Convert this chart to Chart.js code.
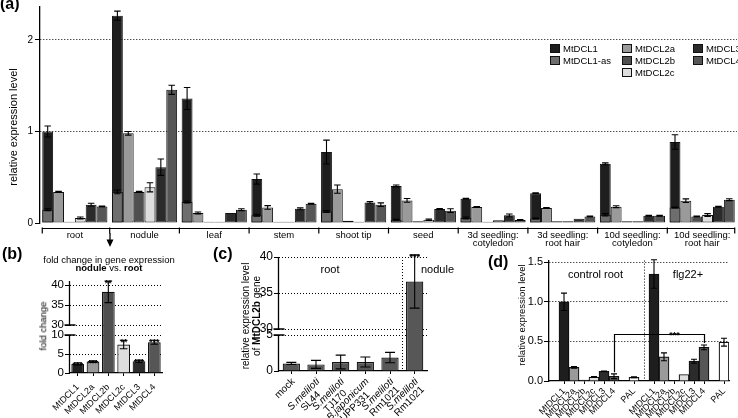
<!DOCTYPE html>
<html>
<head>
<meta charset="utf-8">
<title>MtDCL expression</title>
<script src="https://cdn.jsdelivr.net/npm/chart.js@4.4.1/dist/chart.umd.min.js"></script>
<style>
  html, body { margin: 0; padding: 0; background: #fff; }
  #fig { position: relative; width: 738px; height: 418px; overflow: hidden;
         font-family: "Liberation Sans", Arial, Helvetica, sans-serif; color: #000; }
  #fig canvas { position: absolute; }
  .t { position: absolute; white-space: nowrap; line-height: 1; }
  .panel { font-size: 16px; font-weight: bold; }
  .mid { transform: translate(-50%, -50%); text-align: center; }
  .vert { transform: translate(-50%, -50%) rotate(-90deg); text-align: center; }
  .leg { position: absolute; font-size: 9.5px; line-height: 12px; white-space: nowrap; }
  .leg i { display: inline-block; width: 8px; height: 7px; border: 1px solid #111;
           vertical-align: -1px; margin-right: 3px; }
</style>
</head>
<body>
<div id="fig">
  <canvas id="chartA" width="738" height="250" style="left:0;top:0;width:738px;height:250px"></canvas>
  <canvas id="chartB" width="170" height="148" style="left:0;top:270px;width:170px;height:148px"></canvas>
  <canvas id="chartC" width="255" height="168" style="left:180px;top:250px;width:255px;height:168px"></canvas>
  <canvas id="chartD" width="268" height="168" style="left:470px;top:250px;width:268px;height:168px"></canvas>

  <div class="t panel" style="left:0;top:-4px">(a)</div>
  <div class="t panel" style="left:2px;top:246px">(b)</div>
  <div class="t panel" style="left:213px;top:246px">(c)</div>
  <div class="t panel" style="left:488px;top:254px">(d)</div>

  <div class="t vert" style="left:12.5px;top:127px;font-size:11px">relative expression level</div>

  <svg style="position:absolute;left:104px;top:232px" width="12" height="18">
    <line x1="6" y1="1" x2="6" y2="8" stroke="#000" stroke-width="1.3"/>
    <polygon points="2.5,7.5 9.5,7.5 6,15" fill="#000"/>
  </svg>
  <div class="t mid" style="left:109px;top:264px;font-size:9.5px;line-height:8px">
    fold change in gene expression<br><b>nodule</b> vs. <b>root</b>
  </div>
  <div class="t vert" style="left:43px;top:326px;font-size:9.5px">fold change</div>

  <div class="t vert" style="left:250.5px;top:316px;font-size:10px;line-height:11px">
    relative expression level<br>of <b>MtDCL2b</b> gene
  </div>
  <div class="t mid" style="left:330px;top:269px;font-size:11px">root</div>
  <div class="t mid" style="left:437.5px;top:269px;font-size:11px">nodule</div>

  <div class="t vert" style="left:522px;top:315px;font-size:9.5px">relative expression level</div>
  <div class="t mid" style="left:595.5px;top:274px;font-size:11px">control root</div>
  <div class="t mid" style="left:688px;top:274px;font-size:11px">flg22+</div>
</div>

<script>
const FONT = '"Liberation Sans", Arial, Helvetica, sans-serif';

// (a) expression across tissues
const tissues = [['root'], ['nodule'], ['leaf'], ['stem'], ['shoot tip'], ['seed'],
  ['3d seedling:', 'cotyledon'], ['3d seedling:', 'root hair'],
  ['10d seedling:', 'cotyledon'], ['10d seedling:', 'root hair']];
const aTicks = [0, 1, 2];
const dcl1     = [1.00, 2.265, 1.36, 0.48, 0.775, 0.405, 0.265, 0.325, 0.647, 0.885];
const dcl1Err  = [0.06, 0.05, 0.12, 0.055, 0.13, 0.01, 0.005, 0.005, 0.01, 0.08];
const dcl1as   = [0.145, 0.34, 0.23, 0.085, 0.125, 0.035, 0.055, 0.05, 0.09, 0.17];
const dcl1asEr = [0.01, 0.02, 0.01, 0.01, 0.01, 0.005, 0.01, 0.005, 0.012, 0.005];
const dcl2a    = [0.34, 0.98, 0.11, 0.17, 0.37, 0.247, 0.175, 0.164, 0.178, 0.244];
const dcl2aErr = [0.005, 0.02, 0.01, 0.02, 0.045, 0.02, 0.005, 0.005, 0.01, 0.02];
const dcl2b    = [0.015, 0.34, 0.015, 0.015, 0.025, 0.018, 0.015, 0.02, 0.02, 0.07];
const dcl2bErr = [0, 0.005, 0, 0, 0, 0, 0, 0, 0, 0.005];
const dcl2c    = [0.055, 0.39, 0.015, 0.015, 0.015, 0.036, 0.03, 0.018, 0.02, 0.087];
const dcl2cErr = [0.01, 0.05, 0, 0, 0, 0.007, 0, 0, 0, 0.015];
const dcl3     = [0.20, 0.61, 0.11, 0.155, 0.225, 0.153, 0.084, 0.047, 0.08, 0.178];
const dcl3Err  = [0.015, 0.09, 0, 0.01, 0.01, 0.005, 0.015, 0, 0.005, 0.005];
const dcl4     = [0.18, 1.455, 0.145, 0.21, 0.20, 0.135, 0.033, 0.07, 0.08, 0.255];
const dcl4Err  = [0.005, 0.05, 0.01, 0.005, 0.02, 0.02, 0.005, 0.005, 0.005, 0.01];

// (b) fold change nodule vs root
const bGenes = ['MtDCL1', 'MtDCL2a', 'MtDCL2b', 'MtDCL2c', 'MtDCL3', 'MtDCL4'];
const bFold  = [2.4, 3.0, 38.3, 7.5, 3.1, 8.1];
const bErr   = [0.3, 0.2, 2.7, 1.1, 0.3, 0.5];
const bStars = ['***', '***', '**', '**', '***', '***'];
const bTicks = [0, 5, 10, 30, 35, 40];

// (c) MtDCL2b after inoculation
const cStrains = [['mock'], ['S.meliloti', 'SL44'], ['S.meliloti', 'TJ170'],
  ['B.japonicum', 'UPP331'], ['S.meliloti', 'Rm1021'], ['S.meliloti', 'Rm1021']];
const cExpr  = [1.05, 0.92, 1.25, 1.25, 1.87, 36.6];
const cErr   = [0.15, 0.55, 0.95, 0.7, 0.72, 3.7];
const cStars = ['', '', '', '', '', '***'];
const cTicks = [0, 5, 30, 35, 40];

// (d) flg22 treatment
const dGenes      = ['MtDCL1', 'MtDCL2a', 'MtDCL2b', 'MtDCL2c', 'MtDCL3', 'MtDCL4', 'PAL'];
const dControl    = [1.00, 0.172, 0.012, 0.05, 0.122, 0.06, 0.047];
const dControlErr = [0.11, 0.01, 0, 0.005, 0.005, 0.03, 0.005];
const dFlg22      = [1.35, 0.305, 0.006, 0.082, 0.25, 0.425, 0.49];
const dFlg22Err   = [0.18, 0.05, 0, 0, 0.025, 0.03, 0.05];
const dTicks      = [0, 0.5, 1.0, 1.5];
const dSigLeft = 0.11, dSigTop = 0.59, dSigRight = 0.48;

const geneColor = {
  'MtDCL1': '#1e1e1e', 'MtDCL1-as': '#6e6e6e', 'MtDCL2a': '#9a9a9a', 'MtDCL2b': '#4f4f4f',
  'MtDCL2c': '#dedede', 'MtDCL3': '#2b2b2b', 'MtDCL4': '#565656', 'PAL': '#ffffff'
};

Chart.defaults.font.family = FONT;
Chart.defaults.color = '#000';
Chart.defaults.animation = false;
Chart.defaults.plugins.legend.display = false;
Chart.defaults.plugins.tooltip.enabled = false;

// linear scale with a gap between brk.lo and brk.hi
class BrokenScale extends Chart.LinearScale {
  getPixelForValue(value) {
    if (value === null || isNaN(value)) return NaN;
    const b = this.options.brk;
    const hiFrac = 1 - b.loFrac - b.gapFrac;
    let d;
    if (value <= b.lo) d = value / b.lo * b.loFrac;
    else if (value >= b.hi) d = b.loFrac + b.gapFrac + (value - b.hi) / (this.max - b.hi) * hiFrac;
    else d = b.loFrac + (value - b.lo) / (b.hi - b.lo) * b.gapFrac;
    return this.getPixelForDecimal(d);
  }
  getValueForPixel(pixel) {
    const b = this.options.brk;
    const d = this.getDecimalForPixel(pixel);
    if (d <= b.loFrac) return d / b.loFrac * b.lo;
    if (d <= b.loFrac + b.gapFrac) return b.lo + (d - b.loFrac) / b.gapFrac * (b.hi - b.lo);
    return b.hi + (d - b.loFrac - b.gapFrac) / (1 - b.loFrac - b.gapFrac) * (this.max - b.hi);
  }
}
BrokenScale.id = 'broken';
BrokenScale.defaults = Chart.LinearScale.defaults;
Chart.register(BrokenScale);

// error bars + significance stars
const errorBars = {
  id: 'errorBars',
  afterDatasetsDraw(chart) {
    const ctx = chart.ctx;
    chart.data.datasets.forEach((ds, di) => {
      if (!ds.errors) return;
      const meta = chart.getDatasetMeta(di);
      const y = chart.scales[meta.yAxisID];
      meta.data.forEach((bar, i) => {
        const v = ds.data[i], e = ds.errors[i];
        if (v == null) return;
        const top = y.getPixelForValue(v + (e || 0));
        if (e) {
          const bot = y.getPixelForValue(Math.max(v - e, 0));
          const cap = Math.min(bar.width * 0.3, 5);
          ctx.save();
          ctx.strokeStyle = '#000';
          ctx.lineWidth = 1.1;
          ctx.beginPath();
          ctx.moveTo(bar.x, top); ctx.lineTo(bar.x, bot);
          ctx.moveTo(bar.x - cap, top); ctx.lineTo(bar.x + cap, top);
          ctx.moveTo(bar.x - cap, bot); ctx.lineTo(bar.x + cap, bot);
          ctx.stroke();
          ctx.restore();
        }
        if (ds.stars && ds.stars[i]) {
          ctx.save();
          ctx.font = 'bold 9px ' + FONT;
          ctx.textAlign = 'center';
          ctx.textBaseline = 'alphabetic';
          ctx.fillStyle = '#000';
          ctx.fillText(ds.stars[i], bar.x, top + 5);
          ctx.restore();
        }
      });
    });
  }
};

const axisBreak = {
  id: 'axisBreak',
  afterDraw(chart) {
    const y = chart.scales.y, b = y.options.brk, ctx = chart.ctx;
    const x = Math.round(chart.chartArea.left) - 0.5;
    const pLo = y.getPixelForValue(b.lo), pHi = y.getPixelForValue(b.hi);
    ctx.save();
    ctx.strokeStyle = '#000';
    ctx.lineWidth = 1.3;
    ctx.beginPath();
    ctx.moveTo(x, chart.chartArea.bottom); ctx.lineTo(x, pLo);
    ctx.moveTo(x, pHi); ctx.lineTo(x, chart.chartArea.top);
    ctx.moveTo(x - 5, pLo); ctx.lineTo(x + 6, pLo);
    ctx.moveTo(x - 5, pHi); ctx.lineTo(x + 6, pHi);
    ctx.stroke();
    ctx.restore();
  }
};

function vSeparator(chart, px) {
  const ctx = chart.ctx, a = chart.chartArea;
  ctx.save();
  ctx.strokeStyle = '#000';
  ctx.lineWidth = 1;
  ctx.setLineDash([1, 2]);
  ctx.beginPath();
  ctx.moveTo(Math.round(px) + 0.5, a.top);
  ctx.lineTo(Math.round(px) + 0.5, a.bottom);
  ctx.stroke();
  ctx.restore();
}

function fixSize(w, h) {
  return s => {
    if (w != null) s.width = w;
    if (h != null) s.height = h;
    s.paddingLeft = 0; s.paddingRight = 0; s.paddingTop = 0; s.paddingBottom = 0;
  };
}

function valueAxis(ticks, extra) {
  return Object.assign({
    min: 0,
    afterBuildTicks: s => { s.ticks = ticks.map(v => ({ value: v })); },
    grid: {
      color: c => (c.tick && c.tick.value === 0) ? 'rgba(0,0,0,0)' : '#000',
      tickColor: '#000', tickLength: 5, lineWidth: 1
    },
    border: { color: '#000', width: 1.3, dash: [1, 2] }
  }, extra);
}

// ---------- (a)
const catPctA = 0.935;
const seriesA = [
  { name: 'MtDCL1-as', data: dcl1as, err: dcl1asEr, stack: 's1' },
  { name: 'MtDCL1', data: dcl1, err: dcl1Err, stack: 's1' },
  { name: 'MtDCL2a', data: dcl2a, err: dcl2aErr, stack: 's2' },
  { name: 'MtDCL2b', data: dcl2b, err: dcl2bErr, stack: 's3' },
  { name: 'MtDCL2c', data: dcl2c, err: dcl2cErr, stack: 's4' },
  { name: 'MtDCL3', data: dcl3, err: dcl3Err, stack: 's5' },
  { name: 'MtDCL4', data: dcl4, err: dcl4Err, stack: 's6' }
];

const groupBracket = {
  id: 'groupBracket',
  afterDraw(chart) {
    const x = chart.scales.x, ctx = chart.ctx;
    const n = chart.data.labels.length;
    const slot = (x.right - x.left) / n;
    const inset = slot * (1 - catPctA) / 2;
    const y = Math.round(chart.chartArea.bottom + 5) + 0.5;
    ctx.save();
    ctx.strokeStyle = '#000';
    ctx.lineWidth = 1.2;
    ctx.beginPath();
    ctx.moveTo(x.left + inset, y); ctx.lineTo(x.right - inset, y);
    for (let i = 0; i <= n; i++) {
      let bx = x.left + i * slot;
      if (i === 0) bx += inset;
      if (i === n) bx -= inset;
      ctx.moveTo(bx, y - 1); ctx.lineTo(bx, y + 5);
    }
    ctx.stroke();
    ctx.restore();
  }
};

new Chart(document.getElementById('chartA'), {
  type: 'bar',
  data: {
    labels: tissues,
    datasets: seriesA.map(s => ({
      label: s.name, data: s.data, errors: s.err, stack: s.stack,
      backgroundColor: geneColor[s.name], borderColor: '#111', borderWidth: 1,
      borderSkipped: false, barPercentage: 1, categoryPercentage: catPctA
    }))
  },
  options: {
    responsive: false,
    layout: { padding: { top: 7, right: 1, left: 0, bottom: 0 } },
    scales: {
      x: {
        stacked: true,
        grid: { display: false, drawTicks: false },
        border: { display: false },
        ticks: { autoSkip: false, maxRotation: 0, padding: 8, color: '#000',
                 font: { size: 9.5, lineHeight: 0.9 } },
        afterFit: fixSize(null, 27)
      },
      y: valueAxis(aTicks, {
        stacked: false, max: 2.36,
        ticks: { padding: 2, color: '#000', font: { size: 10 } },
        afterFit: fixSize(40, null)
      })
    }
  },
  plugins: [errorBars, groupBracket]
});

// legend for (a)
const legendCols = [['MtDCL1', 'MtDCL1-as'], ['MtDCL2a', 'MtDCL2b', 'MtDCL2c'], ['MtDCL3', 'MtDCL4']];
const legendX = [550, 622, 693];
legendCols.forEach((col, ci) => {
  const div = document.createElement('div');
  div.className = 'leg';
  div.style.left = legendX[ci] + 'px';
  div.style.top = '43px';
  div.innerHTML = col.map(n => '<i style="background:' + geneColor[n] + '"></i>' + n).join('<br>');
  document.getElementById('fig').appendChild(div);
});

// ---------- (b)
new Chart(document.getElementById('chartB'), {
  type: 'bar',
  data: {
    labels: bGenes,
    datasets: [{
      data: bFold, errors: bErr, stars: bStars,
      backgroundColor: bGenes.map(g => geneColor[g]), borderColor: '#111', borderWidth: 1.2,
      barPercentage: 0.83, categoryPercentage: 1
    }]
  },
  options: {
    responsive: false,
    layout: { padding: { top: 11, right: 8, left: 0, bottom: 0 } },
    scales: {
      x: {
        grid: { drawOnChartArea: false, offset: false, tickLength: 3, color: '#000' },
        border: { color: '#000', width: 1.3 },
        ticks: { autoSkip: false, minRotation: 45, maxRotation: 45, padding: 6, color: '#000',
                 font: { size: 9 } },
        afterFit: fixSize(null, 45)
      },
      y: valueAxis(bTicks, {
        type: 'broken', max: 41,
        brk: { lo: 10, hi: 30, loFrac: 38 / 92, gapFrac: 10 / 92 },
        border: { display: false, dash: [1, 2] },
        ticks: { padding: 1, color: '#000', font: { size: 11.5 } },
        afterFit: fixSize(70, null)
      })
    }
  },
  plugins: [errorBars, axisBreak]
});

// ---------- (c)
const cLabels = {
  id: 'cLabels',
  afterDraw(chart) {
    const x = chart.scales.x, ctx = chart.ctx;
    vSeparator(chart, (x.getPixelForValue(4) + x.getPixelForValue(5)) / 2);
    cStrains.forEach((lines, i) => {
      const px = x.getPixelForValue(i);
      const fonts = lines.map((t, j) => (lines.length > 1 && j === 0 ? 'italic ' : '') + '10px ' + FONT);
      const widths = lines.map((t, j) => { ctx.font = fonts[j]; return ctx.measureText(t).width; });
      const w = Math.max(...widths);
      ctx.save();
      ctx.translate(px + 2, chart.chartArea.bottom + 9);
      ctx.rotate(-Math.PI / 4);
      ctx.fillStyle = '#000';
      ctx.textAlign = 'center';
      ctx.textBaseline = 'middle';
      lines.forEach((t, j) => { ctx.font = fonts[j]; ctx.fillText(t, -w / 2, j * 10); });
      ctx.restore();
    });
  }
};

new Chart(document.getElementById('chartC'), {
  type: 'bar',
  data: {
    labels: cStrains.map(l => l.join(' ')),
    datasets: [{
      data: cExpr, errors: cErr, stars: cStars,
      backgroundColor: '#575757', borderColor: '#111', borderWidth: 1.2,
      barPercentage: 0.7, categoryPercentage: 1
    }]
  },
  options: {
    responsive: false,
    layout: { padding: { top: 7, right: 8, left: 0, bottom: 0 } },
    scales: {
      x: {
        grid: { drawOnChartArea: false, offset: false, tickLength: 3, color: '#000' },
        border: { color: '#000', width: 1.3 },
        ticks: { display: false },
        afterFit: fixSize(null, 47)
      },
      y: valueAxis(cTicks, {
        type: 'broken', max: 40,
        brk: { lo: 5, hi: 30, loFrac: 36 / 114, gapFrac: 6 / 114 },
        border: { display: false, dash: [1, 2] },
        ticks: { padding: 1, color: '#000', font: { size: 12 } },
        afterFit: fixSize(99, null)
      })
    }
  },
  plugins: [errorBars, axisBreak, cLabels]
});

// ---------- (d)
// control and flg22 groups, each with an empty slot before the group and before PAL
const withGaps = (arr, blank) => [blank, ...arr.slice(0, 6), blank, arr[6]];
const dLabels = [...withGaps(dGenes, ''), ...withGaps(dGenes, '')];
const dValues = [...withGaps(dControl, null), ...withGaps(dFlg22, null)];
const dErrors = [...withGaps(dControlErr, null), ...withGaps(dFlg22Err, null)];
const idxCtlDcl4 = dLabels.indexOf('MtDCL4');
const idxFlgDcl4 = dLabels.lastIndexOf('MtDCL4');

const dExtras = {
  id: 'dExtras',
  afterDraw(chart) {
    const x = chart.scales.x, y = chart.scales.y, ctx = chart.ctx;
    vSeparator(chart, x.getPixelForValue(dLabels.length / 2));
    const xl = Math.round(x.getPixelForValue(idxCtlDcl4)) + 0.5;
    const xr = Math.round(x.getPixelForValue(idxFlgDcl4)) + 0.5;
    const yt = Math.round(y.getPixelForValue(dSigTop)) + 0.5;
    ctx.save();
    ctx.strokeStyle = '#000';
    ctx.lineWidth = 1.2;
    ctx.beginPath();
    ctx.moveTo(xl, y.getPixelForValue(dSigLeft)); ctx.lineTo(xl, yt);
    ctx.lineTo(xr, yt); ctx.lineTo(xr, y.getPixelForValue(dSigRight));
    ctx.stroke();
    ctx.font = 'bold 9px ' + FONT;
    ctx.fillStyle = '#000';
    ctx.textAlign = 'center';
    ctx.fillText('***', (xl + 2 * xr) / 3, yt + 3);
    ctx.restore();
  }
};

new Chart(document.getElementById('chartD'), {
  type: 'bar',
  data: {
    labels: dLabels,
    datasets: [{
      data: dValues, errors: dErrors,
      backgroundColor: dLabels.map(g => geneColor[g] || '#fff'), borderColor: '#111', borderWidth: 1.2,
      barPercentage: 1, categoryPercentage: 1
    }]
  },
  options: {
    responsive: false,
    layout: { padding: { top: 10.6, right: 9, left: 0, bottom: 0 } },
    scales: {
      x: {
        grid: { drawOnChartArea: false, offset: false, tickLength: 3,
                color: c => dLabels[c.index] ? '#000' : 'rgba(0,0,0,0)' },
        border: { color: '#000', width: 1.3 },
        ticks: { autoSkip: false, minRotation: 45, maxRotation: 45, padding: 2, color: '#000',
                 font: { size: 9 } },
        afterFit: fixSize(null, 37)
      },
      y: valueAxis(dTicks, {
        max: 1.52,
        ticks: { padding: 1, color: '#000', font: { size: 11 }, callback: v => v.toFixed(1) },
        afterFit: fixSize(79, null)
      })
    }
  },
  plugins: [errorBars, dExtras]
});
</script>
</body>
</html>
